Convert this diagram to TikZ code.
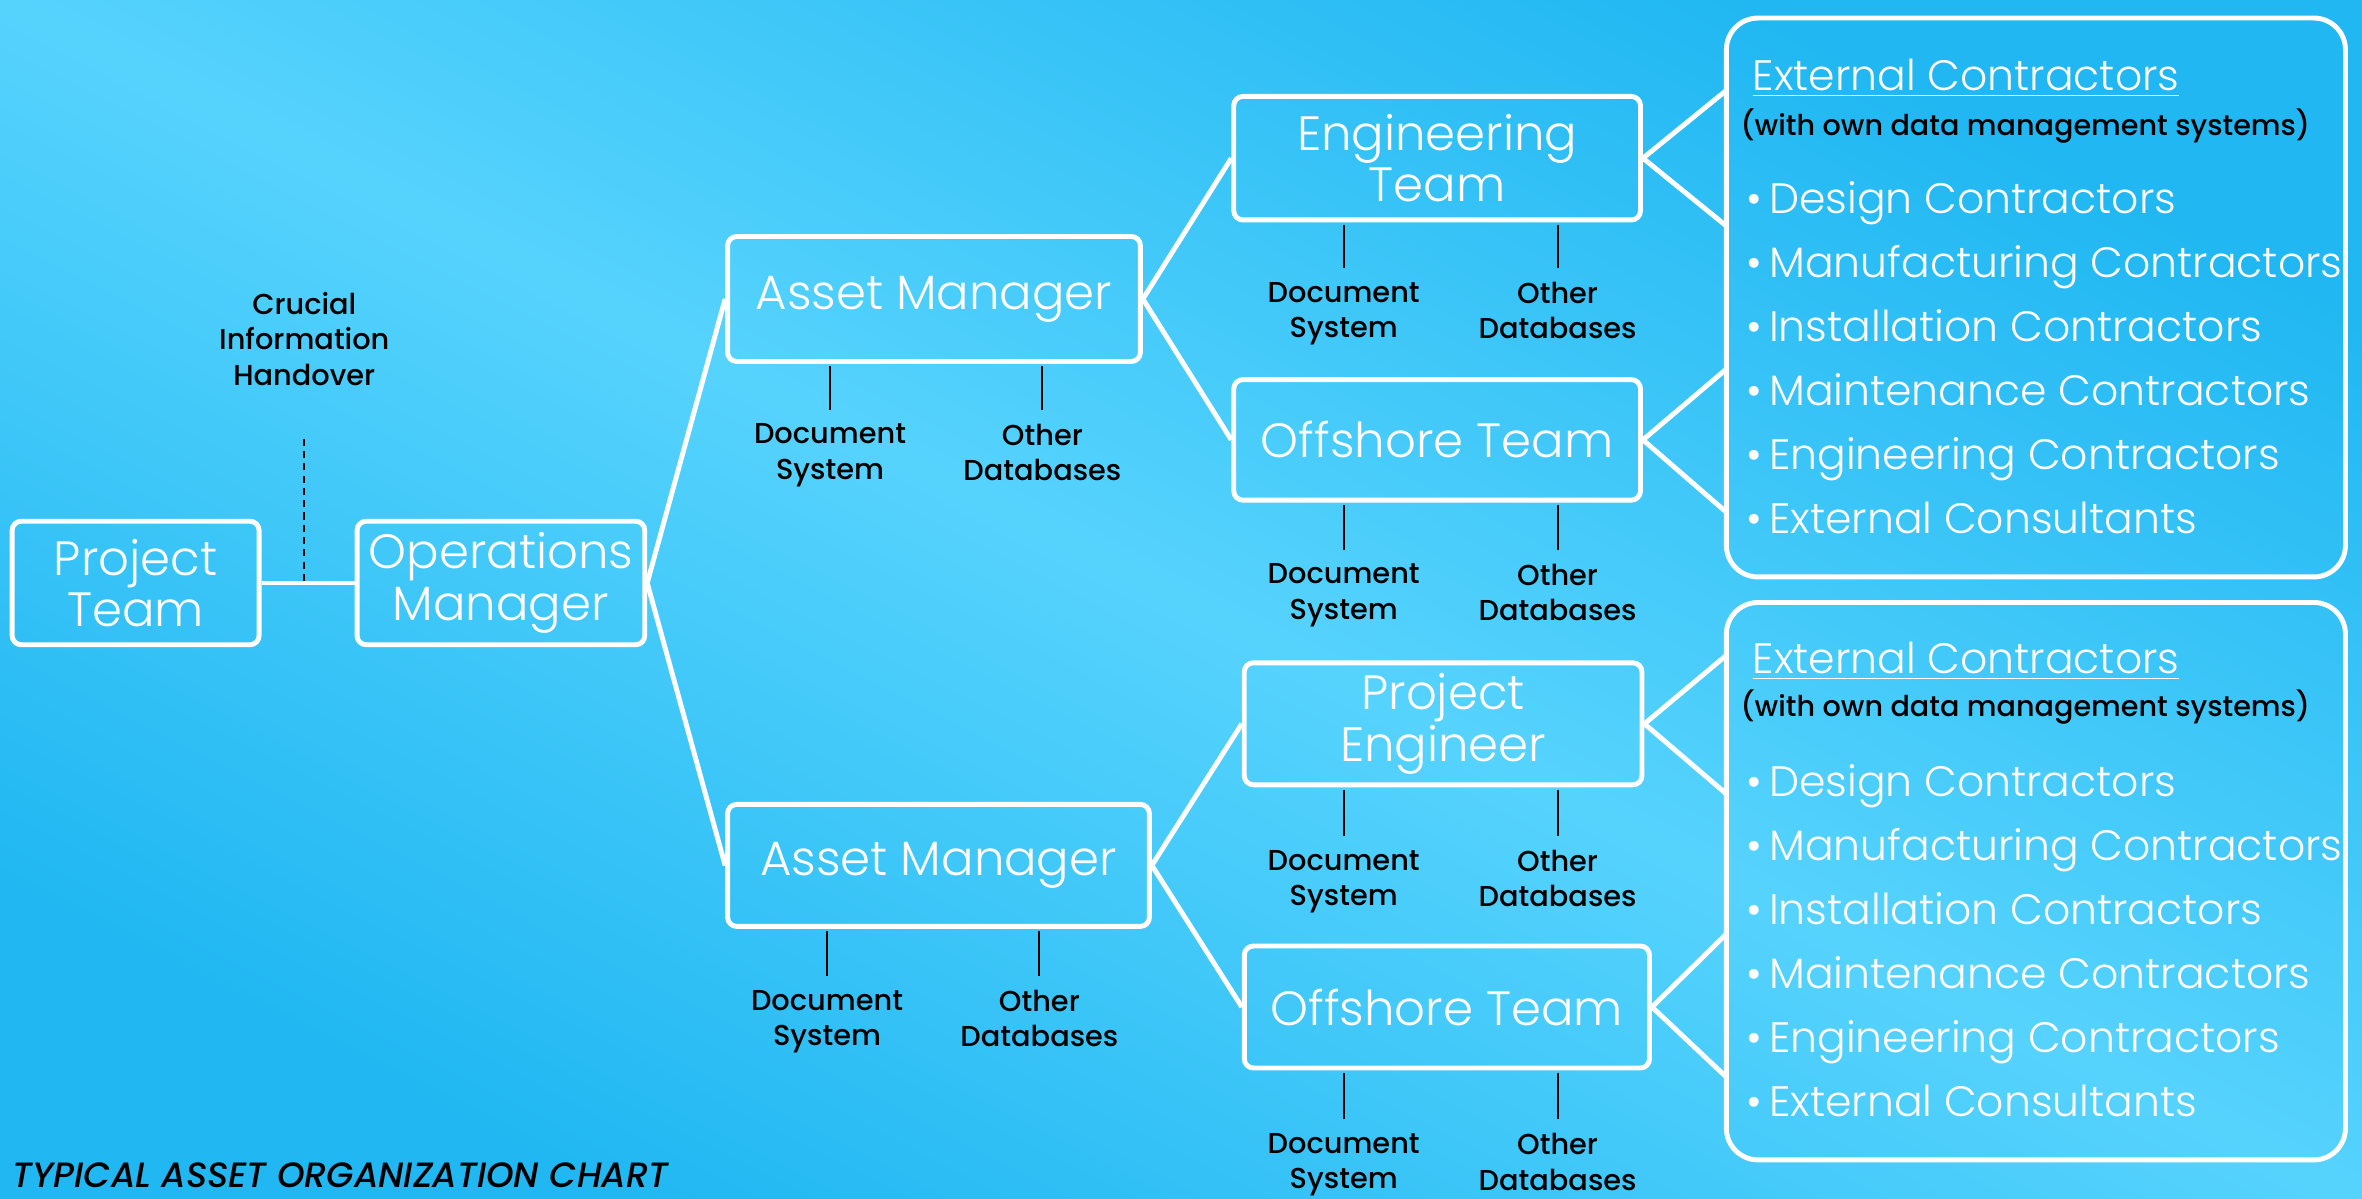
\documentclass[tikz,border=0pt]{standalone}
\usepackage{fontspec}
\setmainfont{Poppins}
\newfontfamily\thinfont{Poppins Light}
\newfontfamily\medfont{Poppins Medium}
\newfontfamily\titlefont{Poppins Medium Italic}
\usepackage{xcolor}

\definecolor{bglight}{RGB}{86,211,253}
\definecolor{bgdark}{RGB}{32,183,242}

\tikzset{
  box/.style={draw=white, line width=1.4pt, rounded corners=2.6pt, text=white,
    align=center, inner sep=0pt, font=\thinfont\fontsize{13.7}{14.6}\selectfont},
  listbox/.style={draw=white, line width=1.4pt, rounded corners=9pt, inner sep=0pt},
  link/.style={white, line width=1.4pt},
  tick/.style={black, line width=0.6pt, shorten <=0.7pt},
  handoff/.style={black, line width=0.6pt, dash pattern=on 2pt off 1.5pt},
  dblabel/.style={align=center, inner sep=3.8pt, font=\medfont\fontsize{8.2}{10.1}\selectfont},
  item/.style={text=white, inner sep=0pt, anchor=base west, font=\thinfont\fontsize{12.1}{15}\selectfont},
  subnote/.style={inner sep=0pt, anchor=base west, font=\medfont\fontsize{8.15}{10}\selectfont},
}

\begin{document}
\begin{tikzpicture}
\useasboundingbox (0,0) rectangle (23.62,-11.99);
\shade[top color=bgdark, bottom color=bgdark, middle color=bglight, shading angle=-27]
  (0,0) rectangle (23.62,-11.99);

% chain on the left
\node[box, minimum width=2.47cm, minimum height=1.235cm] (pt) at (1.356,-5.830) {Project\\Team};
\node[box, minimum width=2.877cm, minimum height=1.235cm] (ops) at (5.009,-5.830) {Operations\\Manager};
\node[dblabel] (handover) at (3.043,-3.389) {Crucial\\Information\\Handover};

% asset managers
\node[box, minimum width=4.128cm, minimum height=1.25cm] (am1) at (9.340,-2.990) {Asset Manager};
\node[box, minimum width=4.218cm, minimum height=1.22cm] (am2) at (9.385,-8.654) {Asset Manager};

% teams
\node[box, minimum width=4.067cm, minimum height=1.235cm] (eng) at (14.371,-1.582) {Engineering\\Team};
\node[box, minimum width=4.067cm, minimum height=1.205cm] (off1) at (14.371,-4.399) {Offshore Team};
\node[box, minimum width=3.977cm, minimum height=1.22cm] (proj) at (14.431,-7.238) {Project\\Engineer};
\node[box, minimum width=4.052cm, minimum height=1.22cm] (off2) at (14.469,-10.070) {Offshore Team};

% databases under the boxes
\node[dblabel, anchor=north] (am1doc) at (8.300,-4.097) {Document\\System};
\node[dblabel, anchor=north] (am1db) at (10.424,-4.097) {Other\\Databases};
\node[dblabel, anchor=north] (am2doc) at (8.270,-9.761) {Document\\System};
\node[dblabel, anchor=north] (am2db) at (10.394,-9.761) {Other\\Databases};
\node[dblabel, anchor=north] (engdoc) at (13.437,-2.681) {Document\\System};
\node[dblabel, anchor=north] (engdb) at (15.576,-2.681) {Other\\Databases};
\node[dblabel, anchor=north] (off1doc) at (13.437,-5.498) {Document\\System};
\node[dblabel, anchor=north] (off1db) at (15.576,-5.498) {Other\\Databases};
\node[dblabel, anchor=north] (projdoc) at (13.437,-8.361) {Document\\System};
\node[dblabel, anchor=north] (projdb) at (15.576,-8.361) {Other\\Databases};
\node[dblabel, anchor=north] (off2doc) at (13.437,-11.193) {Document\\System};
\node[dblabel, anchor=north] (off2db) at (15.576,-11.193) {Other\\Databases};

% contractor boxes
\node[listbox, minimum width=6.191cm, minimum height=5.589cm] (ec1) at (20.359,-2.975) {};
\node[listbox, minimum width=6.191cm, minimum height=5.574cm] (ec2) at (20.359,-8.812) {};
\node[item] (ec1head) at (17.519,-0.904) {\underline{External Contractors}};
\node[subnote] (ec1sub) at (17.399,-1.356) {(with own data management systems)};
\node[item] (ec2head) at (17.519,-6.734) {\underline{External Contractors}};
\node[subnote] (ec2sub) at (17.399,-7.170) {(with own data management systems)};
\foreach \t [count=\i] in {Design Contractors, Manufacturing Contractors,
    Installation Contractors, Maintenance Contractors, Engineering Contractors,
    External Consultants} {
  \node[item] (ec1-\i) at (17.459,-2.139-0.6385*\i+0.6385) {\textbullet\hspace{2pt}\t};
  \node[item] (ec2-\i) at (17.459,-7.969-0.6385*\i+0.6385) {\textbullet\hspace{2pt}\t};
}
\coordinate (ec1a) at (17.263,-0.904);
\coordinate (ec1b) at (17.263,-2.260);
\coordinate (ec1c) at (17.263,-3.691);
\coordinate (ec1d) at (17.263,-5.122);
\coordinate (ec2a) at (17.263,-6.553);
\coordinate (ec2b) at (17.263,-7.939);
\coordinate (ec2c) at (17.263,-9.340);
\coordinate (ec2d) at (17.263,-10.771);

% white connectors
\draw[link] (pt.east) -- (ops.west);
\draw[link] (ops.east) -- (am1.west);
\draw[link] (ops.east) -- (am2.west);
\draw[link] (am1.east) -- (eng.west);
\draw[link] (am1.east) -- (off1.west);
\draw[link] (am2.east) -- (proj.west);
\draw[link] (am2.east) -- (off2.west);
\draw[link] (eng.east) -- (ec1a);
\draw[link] (eng.east) -- (ec1b);
\draw[link] (off1.east) -- (ec1c);
\draw[link] (off1.east) -- (ec1d);
\draw[link] (proj.east) -- (ec2a);
\draw[link] (proj.east) -- (ec2b);
\draw[link] (off2.east) -- (ec2c);
\draw[link] (off2.east) -- (ec2d);

% handover and database ticks
\draw[handoff, shorten <=0.39cm] (handover.south) -- (handover.south |- pt.east);
\draw[tick] (am1.south -| am1doc.north) -- (am1doc.north);
\draw[tick] (am1.south -| am1db.north) -- (am1db.north);
\draw[tick] (am2.south -| am2doc.north) -- (am2doc.north);
\draw[tick] (am2.south -| am2db.north) -- (am2db.north);
\draw[tick] (eng.south -| engdoc.north) -- (engdoc.north);
\draw[tick] (eng.south -| engdb.north) -- (engdb.north);
\draw[tick] (off1.south -| off1doc.north) -- (off1doc.north);
\draw[tick] (off1.south -| off1db.north) -- (off1db.north);
\draw[tick] (proj.south -| projdoc.north) -- (projdoc.north);
\draw[tick] (proj.south -| projdb.north) -- (projdb.north);
\draw[tick] (off2.south -| off2doc.north) -- (off2doc.north);
\draw[tick] (off2.south -| off2db.north) -- (off2db.north);

\node[anchor=base west, inner sep=0pt, font=\titlefont\fontsize{10}{12}\selectfont] (title)
  at (0.12,-11.87) {TYPICAL ASSET ORGANIZATION CHART};
\end{tikzpicture}
\end{document}
